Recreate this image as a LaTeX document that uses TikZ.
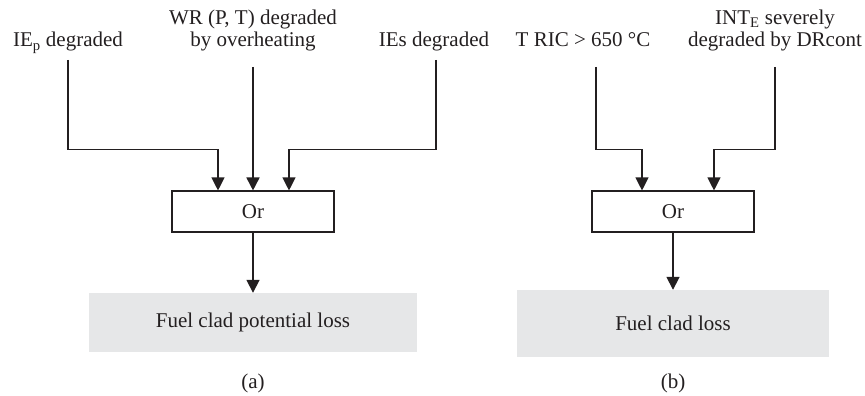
\documentclass[tikz,border=0pt]{standalone}
\usepackage{fontspec}
\setmainfont{Liberation Serif}
\usetikzlibrary{arrows.meta}
\definecolor{ink}{HTML}{231F20}
\definecolor{shade}{HTML}{E6E7E8}
\begin{document}
\begin{tikzpicture}[x=1pt,y=-1pt,
  every node/.style={font=\fontsize{21}{22.5}\selectfont, text=ink, inner sep=0pt},
  label/.style={anchor=base, align=center},
  gate/.style={draw=ink, line width=1.1pt, minimum width=162pt, minimum height=41pt},
  result/.style={fill=shade, minimum height=59pt},
  feed/.style={draw=ink, line width=1.1pt, -{Triangle[width=13pt,length=13pt]}},
  mainfeed/.style={draw=ink, line width=1.7pt, -{Triangle[width=13pt,length=13pt]}}]
\useasboundingbox (0,0) rectangle (865,396);

% ---- (a) fuel clad potential loss ----
% the base anchor of a two-line label is the baseline of its last line
\node[label] (la) at (68,47) {IE\textsubscript{p} degraded};
\node[label] (lb) at (253,47) {WR (P, T) degraded\\by overheating};
\node[label] (lc) at (434,47) {IEs degraded};
\coordinate (ta) at (68,60);
\coordinate (tb) at (253,67);
\coordinate (tc) at (436,60);

\node[gate] (ora) at (253,211.5) {Or};
\node[result, minimum width=328pt] (ra) at (253,322.5) {Fuel clad potential loss};
\node (capa) at (253,383) {(a)};

\draw[feed] (ta) |- ([xshift=-35pt,yshift=41pt]ora.north) -- ([xshift=-35pt]ora.north);
\draw[mainfeed] (tb) -- (ora.north);
\draw[feed] (tc) |- ([xshift=36pt,yshift=41pt]ora.north) -- ([xshift=36pt]ora.north);
\draw[mainfeed] (ora.south) -- (ra.north);

% ---- (b) fuel clad loss ----
\node[label] (ld) at (583,47) {T RIC > 650 °C};
\node[label] (le) at (775,47) {INT\textsubscript{E} severely\\degraded by DRcont};
\coordinate (td) at (596,67);
\coordinate (te) at (775,67);

\node[gate] (orb) at (673,211.5) {Or};
\node[result, minimum width=312pt, minimum height=67pt] (rb) at (673,323.5) {Fuel clad loss};
\node (capb) at (673,383) {(b)};

\draw[feed] (td) |- ([xshift=-31pt,yshift=41pt]orb.north) -- ([xshift=-31pt]orb.north);
\draw[feed] (te) |- ([xshift=41pt,yshift=41pt]orb.north) -- ([xshift=41pt]orb.north);
\draw[mainfeed] (orb.south) -- (rb.north);
\end{tikzpicture}
\end{document}
